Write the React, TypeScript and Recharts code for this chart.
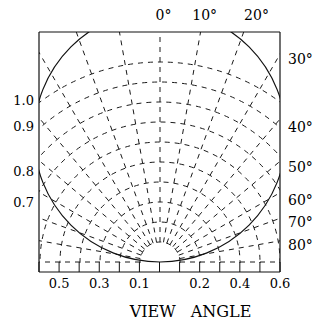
import {
  ScatterChart,
  XAxis,
  YAxis,
  RadialBarChart,
  PolarGrid,
  PolarAngleAxis,
  PolarRadiusAxis,
} from "recharts";

// view angle grid
const viewAngles = [-90, -80, -70, -60, -50, -40, -30, -20, -10, 0, 10, 20, 30, 40, 50, 60, 70, 80, 90];
const radii = [0.1, 0.2, 0.3, 0.4, 0.5, 0.6, 0.7, 0.8, 0.9, 1.0];
const limbRadius = [0.63];

// axis ticks (in plot units) and their labels
const bottomTicks = [-0.6, -0.5, -0.4, -0.3, -0.2, -0.1, 0, 0.1, 0.2, 0.3, 0.4, 0.5, 0.6];
const bottomLabels = ["", "0.5", "", "0.3", "", "0.1", "", "", "0.2", "", "0.4", "", "0.6"];
const leftTicks = [0.81, 0.68, 0.455, 0.3];
const leftLabels = ["1.0", "0.9", "0.8", "0.7"];
const topTicks = [0.02, 0.225, 0.483];
const topLabels = ["0°", "10°", "20°"];
const rightTicks = [1.015, 0.675, 0.475, 0.31, 0.2, 0.085];
const rightLabels = ["30°", "40°", "50°", "60°", "70°", "80°"];

const W = 323;
const H = 324;
const PL = 39;
const PT = 32;
const PW = 241;
const PH = 240;
const CLIP_H = 231;
const font = "DejaVu Serif";

const axisRows = bottomTicks.map((x) => ({ x, y: 0 }));
const gridRows = radii.map((r) => ({ r, a: 0 }));
const limbRows = limbRadius.map((r) => ({ r, a: 0 }));

const dashed = { stroke: "#1a1a1a", strokeWidth: 1, strokeDasharray: "5 5" };
const noMargin = { top: 0, right: 0, bottom: 0, left: 0 };

export default function App() {
  const numTick = { fontFamily: font, fontSize: 13, fill: "#000" };
  const degTick = { fontFamily: font, fontSize: 14, fill: "#000" };
  const axisLine = { stroke: "#111", strokeWidth: 1.2 };
  const layer = { position: "absolute" as const, left: 0, top: 0 };

  return (
    <div style={{ position: "absolute", left: 0, top: 0, width: W, height: H, background: "#fff" }}>
      <ScatterChart width={W} height={H} data={axisRows} margin={noMargin}>
        <XAxis
          xAxisId="bottom"
          dataKey="x"
          type="number"
          domain={[-0.6, 0.6]}
          allowDataOverflow
          ticks={bottomTicks}
          interval={0}
          height={H - PT - PH}
          axisLine={axisLine}
          tickLine={{ stroke: "#111" }}
          tickSize={-10}
          tickMargin={17}
          tick={numTick}
          tickFormatter={(_v: number, i: number) => bottomLabels[i]}
          label={{
            content: ({ viewBox }: any) => (
              <text
                x={viewBox.x + viewBox.width / 2 + 31}
                y={viewBox.y + viewBox.height - 7}
                textAnchor="middle"
                fontFamily={font}
                fontSize={16}
                fill="#000"
                style={{ wordSpacing: 10 }}
              >
                VIEW ANGLE
              </text>
            ),
          }}
        />
        <XAxis
          xAxisId="top"
          dataKey="x"
          orientation="top"
          type="number"
          domain={[-0.6, 0.6]}
          allowDataOverflow
          ticks={topTicks}
          interval={0}
          height={PT}
          axisLine={axisLine}
          tickLine={false}
          tickSize={0}
          tickMargin={12}
          tick={degTick}
          tickFormatter={(_v: number, i: number) => topLabels[i]}
        />
        <YAxis
          yAxisId="left"
          dataKey="y"
          type="number"
          domain={[-0.05, 1.15]}
          allowDataOverflow
          ticks={leftTicks}
          interval={0}
          width={PL}
          axisLine={axisLine}
          tickLine={false}
          tickSize={0}
          tickMargin={5}
          tick={numTick}
          tickFormatter={(_v: number, i: number) => leftLabels[i]}
        />
        <YAxis
          yAxisId="right"
          dataKey="y"
          orientation="right"
          type="number"
          domain={[-0.05, 1.15]}
          allowDataOverflow
          ticks={rightTicks}
          interval={0}
          width={W - PL - PW}
          axisLine={axisLine}
          tickLine={false}
          tickSize={0}
          tickMargin={8}
          tick={degTick}
          tickFormatter={(_v: number, i: number) => rightLabels[i]}
        />
      </ScatterChart>

      <div style={{ position: "absolute", left: PL, top: PT, width: PW, height: CLIP_H, overflow: "hidden" }}>
        {/* constant radius arcs */}
        <div style={layer}>
          <RadialBarChart
            width={PW}
            height={CLIP_H}
            data={gridRows}
            cx={121}
            cy={230}
            innerRadius={0}
            outerRadius={400}
            startAngle={180}
            endAngle={0}
            margin={noMargin}
          >
            <PolarAngleAxis type="number" dataKey="a" domain={[-90, 90]} ticks={[]} axisLine={false} tickLine={false} tick={false} />
            <PolarRadiusAxis type="number" dataKey="r" domain={[0, 2]} allowDataOverflow ticks={radii} axisLine={false} tick={false} />
            <PolarGrid gridType="circle" radialLines={false} {...dashed} />
          </RadialBarChart>
        </div>
        {/* view angle spokes */}
        <div style={layer}>
          <RadialBarChart
            width={PW}
            height={CLIP_H}
            data={gridRows}
            cx={121}
            cy={230}
            innerRadius={20}
            outerRadius={300}
            startAngle={180}
            endAngle={0}
            margin={noMargin}
          >
            <PolarAngleAxis
              type="number"
              dataKey="a"
              domain={[-90, 90]}
              allowDataOverflow
              ticks={viewAngles}
              axisLine={false}
              tickLine={false}
              tick={false}
            />
            <PolarRadiusAxis type="number" dataKey="r" domain={[0, 2]} ticks={[]} axisLine={false} tick={false} />
            <PolarGrid gridType="circle" {...dashed} />
          </RadialBarChart>
        </div>
        {/* limb */}
        <div style={layer}>
          <RadialBarChart
            width={PW}
            height={CLIP_H}
            data={limbRows}
            cx={121}
            cy={104}
            innerRadius={0}
            outerRadius={200}
            startAngle={180}
            endAngle={-180}
            margin={noMargin}
          >
            <PolarAngleAxis type="number" dataKey="a" domain={[0, 360]} ticks={[]} axisLine={false} tickLine={false} tick={false} />
            <PolarRadiusAxis type="number" dataKey="r" domain={[0, 1]} allowDataOverflow ticks={limbRadius} axisLine={false} tick={false} />
            <PolarGrid gridType="circle" radialLines={false} stroke="#111" strokeWidth={1.2} />
          </RadialBarChart>
        </div>
      </div>
    </div>
  );
}
